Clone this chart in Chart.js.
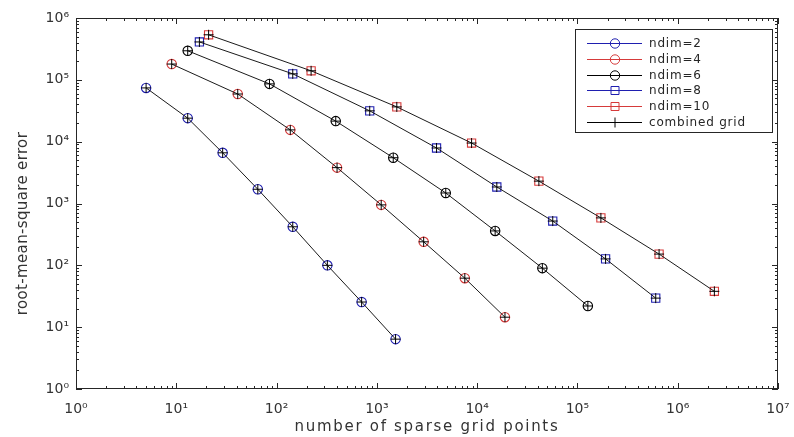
<!DOCTYPE html>
<html>
<head>
<meta charset="utf-8">
<script src="https://cdn.jsdelivr.net/npm/chart.js@4/dist/chart.umd.min.js"></script>
<style>
html,body{margin:0;padding:0;background:#fff;}
#wrap{width:794px;height:437px;position:relative;}
</style>
</head>
<body>
<div id="wrap"><canvas id="c" width="794" height="437"></canvas></div>
<script>
// ---- data ----
const seriesLabels = ['ndim=2', 'ndim=4', 'ndim=6', 'ndim=8', 'ndim=10'];
const combinedLabel = 'combined grid';

const points2  = [5, 13, 29, 65, 145, 321, 705, 1537];
const points4  = [9, 41, 137, 401, 1105, 2929, 7537, 18945];
const points6  = [13, 85, 389, 1457, 4865, 15121, 44689, 127105];
const points8  = [17, 145, 849, 3937, 15713, 56737, 190881, 603777];
const points10 = [21, 221, 1581, 8801, 41265, 171425, 652065, 2320385];

const rmse2  = [74000, 24000, 6600, 1700, 420, 100, 25.5, 6.4];
const rmse4  = [180000, 59000, 15500, 3800, 950, 240, 62, 14.5];
const rmse6  = [295000, 86000, 21500, 5500, 1480, 360, 90, 22];
const rmse8  = [410000, 125000, 31500, 7900, 1850, 520, 127, 29.5];
const rmse10 = [535000, 140000, 36500, 9500, 2300, 585, 152, 38];

const xTickExponents = [0, 1, 2, 3, 4, 5, 6, 7];
const yTickExponents = [0, 1, 2, 3, 4, 5, 6];
const xTitle = 'number of sparse grid points';
const yTitle = 'root-mean-square error';

// ---- styling ----
const BLUE = '#1f1fb0';
const RED = '#d63a3a';
const BLACK = '#000000';
const AXIS = '#262626';
const FONT = '"DejaVu Sans", "Liberation Sans", sans-serif';
const SUP = ['\u2070', '\u00B9', '\u00B2', '\u00B3', '\u2074', '\u2075', '\u2076', '\u2077'];

const allPoints = [points2, points4, points6, points8, points10];
const allRmse = [rmse2, rmse4, rmse6, rmse8, rmse10];
const seriesColors = [BLUE, RED, BLACK, BLUE, RED];
const seriesShapes = ['circle', 'circle', 'circle', 'rect', 'rect'];

function toXY(xs, ys) { return xs.map((x, i) => ({ x: x, y: ys[i] })); }

const datasets = [];
// combined grid lines with '+' markers (one per dimension)
allPoints.forEach((xs, i) => {
  datasets.push({
    label: combinedLabel,
    data: toXY(xs, allRmse[i]),
    showLine: true,
    borderColor: BLACK,
    borderWidth: 0.9,
    pointStyle: 'cross',
    pointRadius: 5,
    pointBorderColor: BLACK,
    pointBorderWidth: 1,
    pointBackgroundColor: 'rgba(0,0,0,0)',
    order: 0
  });
});
// coloured markers per dimension
allPoints.forEach((xs, i) => {
  datasets.push({
    label: seriesLabels[i],
    data: toXY(xs, allRmse[i]),
    showLine: false,
    borderColor: seriesColors[i],
    pointStyle: seriesShapes[i],
    pointRadius: seriesShapes[i] === 'rect' ? 5.8 : 4.7,
    pointBorderColor: seriesColors[i],
    pointBorderWidth: 1.1,
    pointBackgroundColor: 'rgba(0,0,0,0)',
    order: 1
  });
});

function powLabel(v) {
  const e = Math.round(Math.log10(v));
  if (Math.abs(v - Math.pow(10, e)) < 1e-6 * v && e >= 0 && e < SUP.length) return '10' + SUP[e];
  return '';
}

// axis titles drawn by Chart.js, with a little letter spacing
if (Chart.Scale && Chart.Scale.prototype.drawTitle) {
  const origDrawTitle = Chart.Scale.prototype.drawTitle;
  Chart.Scale.prototype.drawTitle = function () {
    const ctx = this.ctx;
    ctx.save();
    if (this.axis === 'y') { ctx.letterSpacing = '0.35px'; ctx.translate(0, 20); }
    else { ctx.letterSpacing = '1.7px'; }
    origDrawTitle.call(this);
    ctx.restore();
  };
}

const matlabAxes = {
  id: 'matlabAxes',
  afterDraw(chart) {
    const ctx = chart.ctx;
    const a = chart.chartArea;
    const xs = chart.scales.x, ys = chart.scales.y;
    ctx.save();
    ctx.strokeStyle = AXIS;
    ctx.lineWidth = 1;
    // box
    ctx.strokeRect(a.left + 0.5, a.top + 0.5, a.right - a.left - 1, a.bottom - a.top - 1);
    // ticks
    ctx.beginPath();
    const lastX = xTickExponents[xTickExponents.length - 1];
    xTickExponents.forEach(e => {
      for (let m = 1; m <= 9; m++) {
        if (e === lastX && m > 1) break;
        const v = m * Math.pow(10, e);
        const px = Math.round(xs.getPixelForValue(v)) + 0.5;
        const len = m === 1 ? 6 : 3;
        ctx.moveTo(px, a.bottom); ctx.lineTo(px, a.bottom - len);
        ctx.moveTo(px, a.top); ctx.lineTo(px, a.top + len);
      }
    });
    const lastY = yTickExponents[yTickExponents.length - 1];
    yTickExponents.forEach(e => {
      for (let m = 1; m <= 9; m++) {
        if (e === lastY && m > 1) break;
        const v = m * Math.pow(10, e);
        const py = Math.round(ys.getPixelForValue(v)) + 0.5;
        const len = m === 1 ? 6 : 3;
        ctx.moveTo(a.left, py); ctx.lineTo(a.left + len, py);
        ctx.moveTo(a.right, py); ctx.lineTo(a.right - len, py);
      }
    });
    ctx.stroke();

    // legend
    const lx = 575, ly = 29, lw = 197, lh = 103;
    ctx.fillStyle = '#ffffff';
    ctx.fillRect(lx, ly, lw, lh);
    ctx.strokeStyle = AXIS;
    ctx.strokeRect(lx + 0.5, ly + 0.5, lw, lh);
    const entries = seriesLabels.map((lab, i) => ({ label: lab, color: seriesColors[i], shape: seriesShapes[i] }));
    entries.push({ label: combinedLabel, color: BLACK, shape: 'cross' });
    ctx.font = '12px ' + FONT;
    ctx.letterSpacing = '0.8px';
    ctx.textBaseline = 'middle';
    ctx.textAlign = 'left';
    entries.forEach((en, i) => {
      const y = Math.round(43 + i * 15.8) + 0.5;
      ctx.strokeStyle = en.color;
      ctx.lineWidth = 1;
      ctx.beginPath();
      ctx.moveTo(587, y); ctx.lineTo(642, y);
      ctx.stroke();
      const mx = 615;
      ctx.beginPath();
      if (en.shape === 'circle') {
        ctx.arc(mx, y, 4.7, 0, Math.PI * 2);
      } else if (en.shape === 'rect') {
        ctx.rect(mx - 4, y - 4, 8, 8);
      } else {
        ctx.moveTo(mx, y - 5); ctx.lineTo(mx, y + 5);
      }
      ctx.stroke();
      ctx.fillStyle = AXIS;
      ctx.fillText(en.label, 649, y);
    });
    ctx.restore();
  }
};

new Chart(document.getElementById('c'), {
  type: 'scatter',
  data: { datasets: datasets },
  options: {
    responsive: false,
    devicePixelRatio: 1,
    animation: false,
    layout: { padding: { left: 0, top: 18, right: 16, bottom: 0 } },
    plugins: {
      legend: { display: false },
      tooltip: { enabled: false },
      title: { display: false }
    },
    elements: { line: { tension: 0 } },
    scales: {
      x: {
        type: 'logarithmic',
        min: Math.pow(10, xTickExponents[0]),
        max: Math.pow(10, xTickExponents[xTickExponents.length - 1]),
        grid: { display: false, drawTicks: false },
        border: { display: false },
        ticks: {
          autoSkip: false, maxRotation: 0, minRotation: 0,
          padding: 12,
          color: '#333333',
          font: { family: FONT, size: 14 },
          callback: (v) => powLabel(v)
        },
        title: {
          display: true, text: xTitle, color: '#333333',
          font: { family: FONT, size: 15 },
          padding: { top: 0, bottom: 1 }
        },
        afterFit(scale) { scale.height = 48; scale.paddingLeft = 0; scale.paddingRight = 0; }
      },
      y: {
        type: 'logarithmic',
        min: Math.pow(10, yTickExponents[0]),
        max: Math.pow(10, yTickExponents[yTickExponents.length - 1]),
        grid: { display: false, drawTicks: false },
        border: { display: false },
        ticks: {
          autoSkip: false,
          padding: 7,
          color: '#333333',
          font: { family: FONT, size: 14 },
          callback: (v) => powLabel(v)
        },
        title: {
          display: true, text: yTitle, color: '#333333',
          font: { family: FONT, size: 15 },
          padding: { top: 14, bottom: 0 }
        },
        afterFit(scale) { scale.width = 76; scale.paddingTop = 0; scale.paddingBottom = 0; }
      }
    }
  },
  plugins: [matlabAxes]
});
</script>
</body>
</html>
